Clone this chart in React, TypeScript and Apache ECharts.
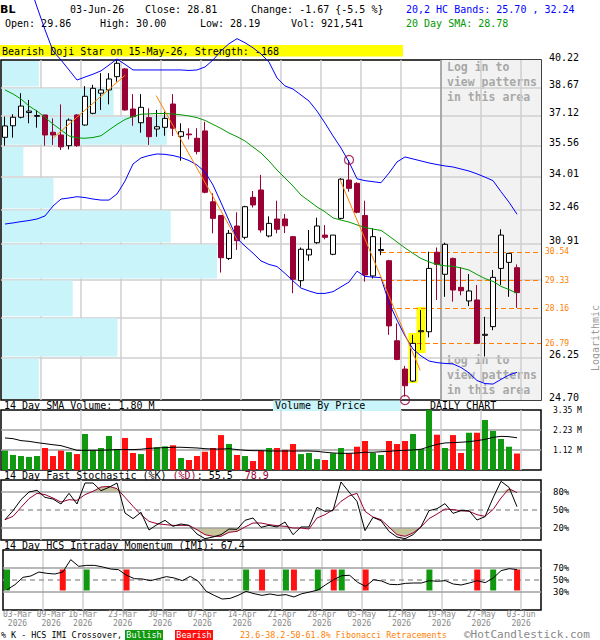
import React, { useEffect, useRef } from 'react';
import * as echarts from 'echarts';

const FONT = '"DejaVu Sans Mono", monospace';

// ---------- price data (daily candles, 03-Mar-2026 .. 03-Jun-2026) ----------
const opens = [36.00, 36.60, 37.05, 37.30, 37.10, 37.17, 36.26, 36.12, 35.57, 37.17,
  36.64, 37.26, 38.35, 38.53, 39.27, 39.71, 37.49, 36.76, 37.03, 36.43,
  36.52, 37.76, 36.05, 36.17, 35.95, 36.33, 32.82, 32.18, 30.26, 31.70,
  31.19, 33.03, 33.38, 31.25, 32.02, 32.02, 31.22, 29.31, 30.41, 30.95,
  31.29, 30.44, 32.05, 33.86, 33.70, 32.18, 29.51, 30.60, 30.16, 26.89,
  25.82, 25.38, 27.24, 27.24, 30.53, 29.58, 30.26, 29.03, 28.47, 28.51,
  27.10, 27.44, 29.83, 30.09, 29.86];
const highs = [37.08, 37.21, 38.35, 37.98, 37.44, 37.17, 36.99, 37.74, 36.99, 37.21,
  38.74, 38.81, 39.47, 39.47, 40.20, 39.75, 38.30, 38.30, 37.53, 37.44,
  37.35, 38.30, 36.73, 36.47, 36.47, 36.81, 33.22, 32.20, 31.52, 32.33,
  32.63, 33.33, 34.11, 32.14, 32.87, 32.25, 31.25, 30.74, 31.52, 32.08,
  31.74, 31.29, 33.95, 34.85, 33.75, 32.87, 31.60, 31.19, 30.20, 27.57,
  25.94, 27.12, 28.10, 30.55, 30.74, 30.95, 30.30, 29.88, 29.59, 29.13,
  27.83, 29.76, 31.55, 30.50, 30.00];
const lows = [35.57, 35.98, 36.99, 36.73, 36.50, 35.57, 35.61, 35.35, 35.38, 35.51,
  36.60, 37.21, 37.44, 37.74, 38.99, 37.40, 36.60, 36.24, 35.61, 36.03,
  36.08, 36.07, 34.81, 35.89, 35.13, 33.22, 31.37, 29.65, 30.19, 30.63,
  31.10, 32.55, 31.40, 31.19, 31.37, 31.38, 28.79, 29.06, 30.16, 30.90,
  31.10, 30.40, 32.00, 33.30, 32.28, 29.27, 29.40, 30.40, 27.12, 26.15,
  24.82, 25.35, 26.54, 27.02, 28.51, 28.64, 28.44, 28.70, 28.26, 26.76,
  26.29, 27.30, 29.13, 28.64, 28.19];
const closes = [36.59, 37.05, 37.65, 37.38, 37.14, 36.12, 36.12, 35.51, 36.90, 35.57,
  38.18, 38.62, 38.53, 39.14, 40.03, 37.44, 37.08, 37.58, 36.03, 36.55,
  36.99, 36.47, 36.29, 36.13, 35.27, 33.27, 32.05, 30.29, 31.37, 31.04,
  32.59, 32.67, 31.52, 31.82, 31.55, 31.71, 29.37, 30.66, 30.66, 31.70,
  31.19, 31.29, 33.90, 33.46, 32.33, 29.55, 31.22, 30.65, 27.47, 26.18,
  25.21, 26.79, 27.28, 29.83, 30.00, 30.88, 28.92, 28.89, 28.88, 26.79,
  27.14, 29.45, 31.29, 30.48, 28.81];
const volumes = [1.08, 0.84, 0.78, 0.73, 0.78, 1.23, 0.78, 1.08, 1.00, 0.89,
  2.01, 1.10, 1.23, 1.90, 1.17, 1.79, 0.95, 0.89, 1.79, 1.27,
  1.32, 1.38, 0.67, 0.56, 0.78, 1.02, 1.23, 1.95, 1.45, 0.84,
  0.78, 0.50, 1.06, 1.23, 1.23, 1.12, 1.45, 0.89, 0.95, 0.61,
  0.56, 0.93, 1.23, 0.93, 1.30, 1.62, 0.95, 0.84, 1.62, 1.45,
  1.62, 2.01, 1.17, 3.35, 1.97, 1.23, 1.95, 0.95, 2.08, 2.08,
  2.79, 2.18, 1.73, 1.30, 0.92];

// ---------- indicator lines ----------
const upperBand = [47.4, 46.8, 46.0, 44.9, 43.4, 42.0, 40.75, 40.22, 39.65, 39.08,
  39.25, 39.41, 39.60, 39.93, 40.28, 39.97, 39.65, 39.65, 39.65, 39.65,
  39.65, 39.65, 39.65, 39.62, 39.65, 39.82, 40.22, 40.75, 41.17, 41.47,
  41.23, 40.93, 40.57, 40.10, 39.20, 38.75, 38.58, 38.25, 37.92, 37.38,
  36.74, 36.07, 35.45, 34.75, 33.92, 33.83, 33.78, 33.73, 34.20, 34.75,
  35.00, 34.90, 34.80, 34.70, 34.62, 34.55, 34.50, 34.40, 34.30, 34.16,
  34.00, 33.83, 33.30, 32.80, 32.24];
const lowerBand = [31.79, 31.84, 31.90, 31.95, 32.02, 32.16, 32.62, 32.95, 33.00, 33.06,
  33.02, 32.95, 32.90, 32.90, 33.19, 33.81, 34.65, 34.95, 35.07, 35.15,
  35.13, 35.07, 34.97, 34.82, 34.60, 34.25, 33.62, 32.78, 31.94, 31.14,
  30.80, 30.49, 30.15, 30.00, 29.91, 29.62, 29.30, 29.00, 28.88, 28.78,
  28.78, 28.85, 29.05, 29.25, 29.71, 29.49, 29.46, 29.44, 28.39, 27.70,
  27.08, 26.57, 26.31, 26.12, 26.06, 26.03, 26.01, 25.88, 25.68, 25.40,
  25.29, 25.27, 25.44, 25.60, 25.70];
const sma20 = [38.53, 38.31, 38.03, 37.65, 37.38, 37.04, 36.69, 36.38, 36.07, 35.97,
  35.95, 35.99, 36.08, 36.38, 36.67, 36.93, 37.09, 37.21, 37.23, 37.25,
  37.25, 37.22, 37.18, 37.12, 37.03, 36.88, 36.67, 36.46, 36.22, 36.03,
  35.81, 35.50, 35.20, 34.80, 34.35, 33.96, 33.57, 33.14, 32.86, 32.58,
  32.35, 32.07, 31.97, 31.88, 31.75, 31.63, 31.56, 31.50, 31.25, 30.98,
  30.72, 30.48, 30.26, 30.11, 30.00, 29.94, 29.92, 29.85, 29.76, 29.57,
  29.40, 29.28, 29.07, 28.94, 28.78];
const volSma = [1.79, 1.75, 1.64, 1.60, 1.53, 1.47, 1.41, 1.36, 1.23, 1.10,
  1.10, 1.10, 1.10, 1.12, 1.14, 1.14, 1.14, 1.16, 1.21, 1.23,
  1.25, 1.27, 1.27, 1.25, 1.23, 1.19, 1.17, 1.17, 1.19, 1.14,
  1.10, 1.08, 1.08, 1.06, 1.06, 1.06, 1.06, 1.06, 1.06, 1.04,
  0.99, 0.95, 0.93, 0.93, 0.95, 0.99, 0.99, 1.02, 1.04, 1.08,
  1.10, 1.12, 1.16, 1.30, 1.43, 1.51, 1.53, 1.55, 1.58, 1.64,
  1.71, 1.82, 1.88, 1.86, 1.80];
const stochK = [33.9, 48.9, 67.2, 80.0, 82.8, 71.1, 68.3, 60.0, 77.8, 60.0,
  95.0, 95.0, 82.2, 87.8, 95.0, 45.0, 35.6, 46.1, 16.7, 25.6,
  32.8, 22.8, 26.7, 24.4, 10.0, 2.2, 5.0, 8.9, 18.3, 17.8,
  32.8, 36.7, 21.1, 24.4, 21.7, 30.0, 8.9, 21.7, 21.7, 54.4,
  47.8, 48.9, 96.7, 80.0, 64.4, 15.6, 37.8, 32.2, 14.4, 5.0,
  2.2, 8.9, 22.2, 48.9, 52.2, 60.6, 44.4, 48.9, 48.9, 33.3,
  38.9, 70.0, 97.8, 87.8, 55.5];
const stochD = [33.9, 39.4, 54.4, 68.9, 77.8, 75.6, 70.0, 63.3, 67.2, 66.1,
  75.6, 81.1, 88.3, 89.4, 85.6, 71.1, 56.1, 42.2, 31.1, 27.2,
  25.6, 24.4, 24.4, 24.4, 17.2, 8.9, 6.1, 6.1, 12.8, 14.4,
  21.7, 28.3, 28.3, 25.6, 23.9, 22.8, 20.0, 20.0, 18.3, 36.7,
  42.2, 50.6, 64.4, 73.3, 77.8, 47.8, 38.3, 33.9, 21.7, 8.9,
  6.1, 11.7, 21.7, 35.6, 43.3, 51.7, 50.6, 48.9, 47.8, 42.2,
  39.4, 50.6, 70.0, 85.6, 78.9];
const imi = [33.9, 42.2, 54.4, 56.7, 63.3, 61.1, 60.0, 63.3, 83.9, 72.8,
  74.4, 74.4, 71.7, 68.3, 67.2, 57.8, 52.2, 51.7, 48.9, 52.2,
  55.6, 53.3, 48.9, 56.1, 47.8, 31.1, 24.4, 18.3, 19.4, 24.4,
  31.1, 27.2, 24.4, 26.7, 24.4, 25.6, 21.7, 27.2, 30.0, 33.3,
  42.2, 50.6, 57.2, 57.8, 46.1, 39.4, 50.6, 48.3, 42.8, 42.2,
  44.4, 45.0, 45.0, 48.9, 47.8, 48.9, 43.3, 41.7, 45.0, 48.9,
  45.6, 53.3, 65.6, 68.9, 67.4];
const bullishCross = [0, 10, 30, 35, 39, 42, 53, 61];
const bearishCross = [7, 15, 32, 36, 41, 45, 59, 64];

// ---------- overlays ----------
const vbpEdges = [24.70, 26.25, 27.81, 29.36, 30.91, 32.46, 34.01, 35.56, 37.12, 38.67, 40.22];
const vbpVolume = [4.9, 15.1, 9.3, 28.0, 22.0, 6.8, 2.9, 21.5, 14.6, 4.9];
const fibLevels = [30.54, 29.33, 28.16, 26.79];
const fibStart = [47.5, 47.5, 48.5, 52];
const trendLines = [
  { i0: 6.04, p0: 35.97, i1: 15.04, p1: 39.36 },
  { i0: 18.9, p0: 38.22, i1: 29.04, p1: 31.07 },
  { i0: 41.9, p0: 33.86, i1: 51.9, p1: 25.77 },
];
const patternIdx = [51, 52];
const patternLo = [25.31, 26.42];
const patternHi = [27.19, 28.22];
const circleIdx = [43, 50];
const circlePrice = [34.85, 24.70];
const loginFrom = 55; // start of the "log in" area (candle boundary)

// ---------- axis ticks ----------
const priceGrid = [38.67, 37.12, 35.56, 34.01, 32.46, 30.91, 29.36, 27.81, 26.25];
const priceTicks = ['40.22', '38.67', '37.12', '35.56', '34.01', '32.46', '30.91', '26.25', '24.70'];
const dateTicks = ['03-Mar', '09-Mar', '16-Mar', '23-Mar', '30-Mar', '07-Apr', '14-Apr',
  '21-Apr', '28-Apr', '05-May', '12-May', '19-May', '27-May', '03-Jun'];
const YEAR = '2026';
const stochTicks = [80, 50, 20];
const imiTicks = [70, 50, 30];

const PMIN = 24.70;
const PMAX = 40.22;
const XMAX = 67.5;
const VBP_MAX = 70;

const GREEN = '#119911';
const RED = '#ff1111';
const DOWN = '#990033';
const BLUE = '#0000ff';
const SMA_GREEN = '#009900';
const ORANGE = '#ff8000';
const GRID = '#cfcfcf';
const GRID_DARK = '#a0a0a0';
const KHAKI = '#c8c49c';
const CYAN = '#c8f4fa';

const X = (i: number) => i + 0.5;
const N = closes.length;

function buildOption() {
  const lastI = N - 1;
  const chg = closes[lastI] - closes[lastI - 1];
  const chgPct = (chg / closes[lastI - 1]) * 100;

  const txt = (x: number, y: number, text: string, extra: any = {}) => ({
    type: 'text', x, y, silent: true,
    style: { text, fill: '#000', font: `10px ${FONT}`, verticalAlign: 'middle', align: 'left', ...extra },
  });

  const grids = [
    { left: 1, top: 60, width: 540, height: 340 },
    { left: 1, top: 410, width: 540, height: 60 },
    { left: 1, top: 480, width: 540, height: 60 },
    { left: 1, top: 550, width: 540, height: 60 },
  ].map((g) => ({ ...g, show: true, borderColor: '#000', borderWidth: 1.5, backgroundColor: '#fff' }));

  // first two date ticks share one left-aligned label (they sit too close to be laid out separately)
  const dateLabel = (k: number) => {
    if (k === 0) return `${dateTicks[0]} ${dateTicks[1]}\n ${YEAR}   ${YEAR}`;
    if (k === 1) return '';
    return `${dateTicks[k]}\n${YEAR}`;
  };

  const xAxes: any[] = [0, 1, 2, 3].map((g) => ({
    type: 'value', gridIndex: g, min: 0, max: XMAX, interval: 5, z: 0.5,
    axisLine: { show: false }, axisTick: { show: false },
    splitLine: { show: true, showMinLine: false, showMaxLine: false, lineStyle: { color: GRID, width: 1.5 } },
    axisLabel: g === 3 ? {
      show: true, color: '#888', fontSize: 8, lineHeight: 8.5, margin: 0.5, fontFamily: FONT,
      alignMinLabel: 'left', showMinLabel: true, showMaxLabel: false, hideOverlap: false,
      formatter: (v: number) => {
        if (Math.abs(v % 5) > 1e-6) return '';
        const k = Math.round(v / 5);
        if (!dateTicks[k]) return '';
        return dateLabel(k);
      },
    } : { show: false },
  }));
  xAxes.push({ type: 'value', gridIndex: 0, min: 0, max: VBP_MAX, show: false });

  const yAxes: any[] = [
    { type: 'log', logBase: 10, gridIndex: 0, min: PMIN, max: PMAX, axisLine: { show: false }, axisTick: { show: false }, axisLabel: { show: false }, splitLine: { show: false } },
    {
      type: 'value', gridIndex: 1, min: 0, max: 3.35, interval: 3.35 / 3, position: 'right',
      axisLine: { show: false }, axisTick: { show: false },
      axisLabel: { fontSize: 8, margin: 12, color: '#000', fontFamily: FONT, showMinLabel: false, showMaxLabel: true, padding: [4, 0, 0, 0], formatter: (v: number) => (v <= 0 ? '' : v.toFixed(2) + ' M') },
      splitLine: { show: true, showMinLine: false, showMaxLine: false, lineStyle: { color: GRID_DARK, width: 1.5 } },
    },
    { type: 'value', gridIndex: 2, min: 0, max: 100, show: false },
    { type: 'value', gridIndex: 3, min: 0, max: 100, show: false },
  ];

  const lineS = (name: string, xi: number, data: number[], color: string, extra: any = {}) => ({
    type: 'line', name, xAxisIndex: xi, yAxisIndex: xi, data: data.map((v, i) => [X(i), v]),
    symbol: 'none', lineStyle: { color, width: 1 }, z: 3, silent: true, ...extra,
  });

  const pctMarkLine = (ticks: number[]) => ({
    silent: true, symbol: 'none', z: 1.5,
    data: ticks.map((v) => ({
      yAxis: v,
      lineStyle: { color: GRID_DARK, width: 1.5, type: v === 50 ? [5, 4] : 'solid' },
      label: { show: true, position: 'end', distance: 12, formatter: `${v}%`, color: '#000', fontSize: 9, fontFamily: FONT },
    })),
  });

  const loginLabel = { color: '#a8a8a8', fontSize: 11.5, fontWeight: 'bold', fontFamily: FONT, lineHeight: 14.8, formatter: 'Log in to\nview patterns\nin this area' };

  const series: any[] = [
    // volume by price
    {
      type: 'custom', name: 'vbp', xAxisIndex: 4, yAxisIndex: 0, z: 1, silent: true,
      data: vbpVolume.map((v, k) => [v, vbpEdges[k], vbpEdges[k + 1]]),
      encode: { x: 0, y: [1, 2] },
      renderItem: (params: any, api: any) => {
        const a = api.coord([0, api.value(2)]);
        const b = api.coord([api.value(0), api.value(1)]);
        return { type: 'rect', shape: { x: a[0] + 1, y: a[1] + 1, width: b[0] - a[0] - 1, height: b[1] - a[1] - 2 }, style: { fill: CYAN } };
      },
    },
    // pattern highlight + fibonacci lines
    {
      type: 'candlestick', name: 'pattern', xAxisIndex: 0, yAxisIndex: 0, z: 1.5, barWidth: 10, silent: true,
      data: patternIdx.map((i, k) => [X(i), patternHi[k], patternLo[k], patternLo[k], patternHi[k]]),
      itemStyle: { color: '#ffff00', color0: '#ffff00', borderColor: '#ffff00', borderColor0: '#ffff00', borderWidth: 0 },
      markLine: {
        silent: true, symbol: 'none', z: 1.6,
        data: fibLevels.map((v, k) => [
          { coord: [fibStart[k], v], lineStyle: { color: ORANGE, width: 1.2, type: [5, 3] }, label: { show: true, position: 'end', distance: 4, formatter: v.toFixed(2), color: ORANGE, fontSize: 8, fontFamily: FONT } },
          { coord: [XMAX, v] },
        ]),
      },
    },
    // candles
    {
      type: 'candlestick', name: 'BL', xAxisIndex: 0, yAxisIndex: 0, z: 2, barWidth: 6, silent: true,
      data: closes.map((c, i) => [X(i), opens[i], c, lows[i], highs[i]]),
      itemStyle: { color: '#ffffff', color0: DOWN, borderColor: '#000000', borderColor0: DOWN, borderWidth: 1 },
    },
    lineS('upper', 0, upperBand, BLUE, { clip: false }),
    lineS('lower', 0, lowerBand, BLUE),
    lineS('sma20', 0, sma20, SMA_GREEN, {
      markArea: {
        silent: true, z: 0,
        data: [
          [
            { xAxis: loginFrom, yAxis: PMIN, itemStyle: { color: '#f2f2f2' }, label: { show: true, position: [6, 0], ...loginLabel } },
            { xAxis: XMAX, yAxis: PMAX },
          ],
          [
            { xAxis: loginFrom, yAxis: PMIN, itemStyle: { color: 'rgba(0,0,0,0)' }, label: { show: true, position: 'insideBottomLeft', distance: 3, offset: [3, 0], ...loginLabel } },
            { xAxis: XMAX, yAxis: PMAX },
          ],
        ],
      },
      markLine: {
        silent: true, symbol: 'none', z: 0.6,
        data: [
          ...priceGrid.map((v) => ({ yAxis: v, lineStyle: { color: GRID, width: 1.5, type: 'solid' }, label: { show: false } })),
          { xAxis: loginFrom, lineStyle: { color: '#9a9a9a', width: 1.5, type: 'solid' }, label: { show: false } },
          ...priceTicks.map((t) => ({
            yAxis: parseFloat(t),
            lineStyle: { color: 'rgba(0,0,0,0)', width: 0 },
            label: { show: true, position: 'end', distance: 8, offset: [0, -3], formatter: t, color: '#000', opacity: 1, fontSize: 10, fontFamily: FONT },
          })),
        ],
      },
    }),
    ...trendLines.map((t, k) => ({
      type: 'line', name: 'trend' + k, xAxisIndex: 0, yAxisIndex: 0, z: 3, silent: true, symbol: 'none',
      data: [[X(t.i0), t.p0], [X(t.i1), t.p1]], lineStyle: { color: ORANGE, width: 1 },
    })),
    {
      type: 'scatter', name: 'marks', xAxisIndex: 0, yAxisIndex: 0, z: 4, clip: false, silent: true,
      symbol: 'circle', symbolSize: 9,
      data: circleIdx.map((i, k) => [X(i), circlePrice[k]]),
      itemStyle: { color: 'rgba(0,0,0,0)', borderColor: DOWN, borderWidth: 1.2 },
    },
    // volume
    {
      type: 'bar', name: 'vol', xAxisIndex: 1, yAxisIndex: 1, barWidth: 6, z: 2, silent: true,
      data: volumes.map((v, i) => ({ value: [X(i), v], itemStyle: { color: closes[i] >= opens[i] ? GREEN : RED } })),
    },
    lineS('volsma', 1, volSma, '#000'),
    // stochastic
    {
      type: 'line', name: 'hiFill', xAxisIndex: 2, yAxisIndex: 2, z: 1, silent: true, symbol: 'none',
      data: stochD.map((d, i) => [X(i), Math.max(d, 80)]),
      lineStyle: { opacity: 0 }, areaStyle: { origin: 80, color: KHAKI, opacity: 1 },
    },
    {
      type: 'line', name: 'loFill', xAxisIndex: 2, yAxisIndex: 2, z: 1, silent: true, symbol: 'none',
      data: stochD.map((d, i) => [X(i), Math.min(d, 20)]),
      lineStyle: { opacity: 0 }, areaStyle: { origin: 20, color: KHAKI, opacity: 1 },
    },
    lineS('stochD', 2, stochD, DOWN),
    lineS('stochK', 2, stochK, '#000', { markLine: pctMarkLine(stochTicks) }),
    // IMI
    {
      type: 'custom', name: 'cross', xAxisIndex: 3, yAxisIndex: 3, z: 2, silent: true,
      data: [...bullishCross.map((i) => [X(i), 32.5, 67.5, 1]), ...bearishCross.map((i) => [X(i), 32.5, 67.5, -1])],
      encode: { x: 0, y: [1, 2] },
      renderItem: (params: any, api: any) => {
        const top = api.coord([api.value(0), api.value(2)]);
        const bot = api.coord([api.value(0), api.value(1)]);
        return { type: 'rect', shape: { x: top[0] - 3, y: top[1], width: 6, height: bot[1] - top[1] }, style: { fill: api.value(3) > 0 ? GREEN : RED } };
      },
    },
    lineS('imi', 3, imi, '#000', { markLine: pctMarkLine(imiTicks) }),
  ];

  const graphic: any[] = [
    txt(0, 9, 'BL', { font: `bold 11px "DejaVu Sans", sans-serif` }),
    txt(70, 9, '03-Jun-26'),
    txt(145, 9, `Close: ${closes[lastI].toFixed(2)}`),
    txt(251, 9, `Change: ${chg.toFixed(2)} {${chgPct.toFixed(1)} %}`),
    txt(406, 9, `20,2 HC Bands: ${lowerBand[lastI].toFixed(2)} , ${upperBand[lastI].toFixed(2)}`, { fill: BLUE }),
    txt(5, 23, `Open: ${opens[lastI].toFixed(2)}`),
    txt(100, 23, `High: ${highs[lastI].toFixed(2)}`),
    txt(200, 23, `Low: ${lows[lastI].toFixed(2)}`),
    txt(291, 23, 'Vol: 921,541'),
    txt(406, 23, `20 Day SMA: ${sma20[lastI].toFixed(2)}`, { fill: SMA_GREEN }),
    { type: 'rect', silent: true, shape: { x: 0, y: 45, width: 403, height: 11.5 }, style: { fill: '#ffff00' } },
    txt(2, 51, 'Bearish Doji Star on 15-May-26, Strength: -168'),
    { type: 'text', x: 595, y: 338, rotation: Math.PI / 2, silent: true, style: { text: 'Logarithmic', fill: '#999', font: `10px ${FONT}`, align: 'center', verticalAlign: 'middle' } },
    txt(4, 405.5, `14 Day SMA Volume: ${volSma[lastI].toFixed(2)} M`),
    { type: 'rect', silent: true, shape: { x: 273, y: 400.5, width: 128, height: 10.5 }, style: { fill: CYAN } },
    txt(275, 405.5, 'Volume By Price'),
    txt(430, 405.5, 'DAILY CHART'),
    {
      type: 'text', x: 4, y: 475.5, silent: true,
      style: {
        text: `14 Day Fast Stochastic (%K) {d|(%D)}: ${stochK[lastI].toFixed(1)}  {d|${stochD[lastI].toFixed(1)}}`,
        fill: '#000', font: `10px ${FONT}`, verticalAlign: 'middle',
        rich: { d: { fill: DOWN, font: `10px ${FONT}` } },
      },
    },
    txt(4, 545.5, `14 Day HCS Intraday Momentum (IMI): ${imi[lastI].toFixed(1)}`),
    txt(1, 635, '% K - HCS IMI Crossover,', { font: `8.4px ${FONT}` }),
    { type: 'rect', silent: true, shape: { x: 125, y: 630, width: 38, height: 10 }, style: { fill: GREEN } },
    txt(144, 635, 'Bullish', { fill: '#fff', align: 'center', font: `8.4px ${FONT}` }),
    { type: 'rect', silent: true, shape: { x: 175, y: 630, width: 38, height: 10 }, style: { fill: RED } },
    txt(194, 635, 'Bearish', { fill: '#fff', align: 'center', font: `8.4px ${FONT}` }),
    txt(240, 635, '23.6-38.2-50-61.8% Fibonacci Retracements', { fill: ORANGE, font: `8.4px ${FONT}` }),
    txt(464, 640, '\u00A9HotCandlestick.com', { fill: '#888', font: `11px ${FONT}`, verticalAlign: 'bottom' }),
  ];

  return {
    animation: false,
    backgroundColor: '#fff',
    textStyle: { fontFamily: FONT },
    grid: grids,
    xAxis: xAxes,
    yAxis: yAxes,
    series,
    graphic,
  };
}

export default function App() {
  const ref = useRef<HTMLDivElement>(null);
  useEffect(() => {
    if (!ref.current) return;
    const chart = echarts.init(ref.current, null, { renderer: 'svg' });
    chart.setOption(buildOption() as any);
    return () => chart.dispose();
  }, []);
  return <div ref={ref} style={{ position: 'fixed', left: 0, top: 0, width: 600, height: 640, background: '#fff' }} />;
}
